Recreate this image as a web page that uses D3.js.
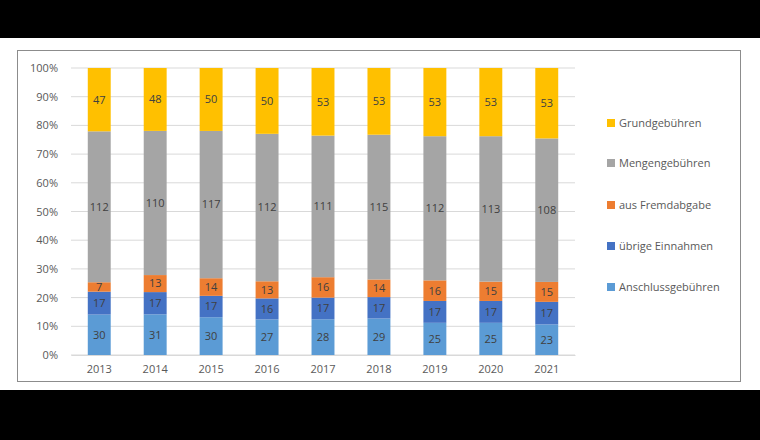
<html>
<head>
<style>
body { margin: 0; background: white; }
svg text { font-family: "Open Sans", "DejaVu Sans", sans-serif; }
</style>
<script src="https://d3js.org/d3.v7.min.js"></script>
</head>
<body>
<svg id="chart" width="760" height="440"></svg>
<script>
var years = ["2013","2014","2015","2016","2017","2018","2019","2020","2021"];
var seriesNames = ["Anschlussgebühren","übrige Einnahmen","aus Fremdabgabe","Mengengebühren","Grundgebühren"];
var anschluss = [30,31,30,27,28,29,25,25,23];
var uebrige   = [17,17,17,16,17,17,17,17,17];
var fremd     = [7,13,14,13,16,14,16,15,15];
var mengen    = [112,110,117,112,111,115,112,113,108];
var grund     = [47,48,50,50,53,53,53,53,53];
var colors = ["#5b9bd5","#4472c4","#ed7d31","#a5a5a5","#ffc000"];
var yTicks = [0,0.1,0.2,0.3,0.4,0.5,0.6,0.7,0.8,0.9,1];

var svg = d3.select("#chart");
svg.append("rect").attr("width",760).attr("height",440).attr("fill","black");
svg.append("rect").attr("x",0).attr("y",38).attr("width",760).attr("height",352).attr("fill","white");
svg.append("rect").attr("x",17.5).attr("y",50.5).attr("width",723).attr("height",331)
  .attr("fill","none").attr("stroke","#8c8c8c");

var rows = years.map(function(y,i){
  return {year:y, s0:anschluss[i], s1:uebrige[i], s2:fremd[i], s3:mengen[i], s4:grund[i]};
});
var keys = ["s0","s1","s2","s3","s4"];
var stack = d3.stack().keys(keys).offset(d3.stackOffsetExpand)(rows);

var x = d3.scaleBand().domain(years).range([71,575]).paddingInner(0.59).paddingOuter(0.3);
var y = d3.scaleLinear().domain([0,1]).range([355,68]);

svg.append("g").selectAll("line").data(yTicks).join("line")
  .attr("x1",71).attr("x2",575).attr("y1",function(d){return y(d);}).attr("y2",function(d){return y(d);})
  .attr("stroke","#d9d9d9");

var yAxis = svg.append("g").attr("transform","translate(71,0)")
  .call(d3.axisLeft(y).tickValues(yTicks).tickFormat(d3.format(".0%")).tickSize(0).tickPadding(13));
yAxis.select(".domain").remove();
yAxis.selectAll("text").attr("fill","#595959").style("font-size","11px");

var xAxis = svg.append("g").attr("transform","translate(0,355)")
  .call(d3.axisBottom(x).tickSize(0).tickPadding(10));
xAxis.select(".domain").attr("stroke","#d9d9d9");
xAxis.selectAll("text").attr("fill","#595959").style("font-size","11px");

var layers = svg.append("g").selectAll("g").data(stack).join("g")
  .attr("fill",function(d,i){return colors[i];});
layers.selectAll("rect").data(function(d){return d;}).join("rect")
  .attr("x",function(d){return x(d.data.year);})
  .attr("width",x.bandwidth())
  .attr("y",function(d){return y(d[1]);})
  .attr("height",function(d){return y(d[0])-y(d[1]);});

stack.forEach(function(layer){
  svg.append("g").selectAll("text").data(layer).join("text")
    .attr("x",function(d){return x(d.data.year)+x.bandwidth()/2;})
    .attr("y",function(d){return (y(d[0])+y(d[1]))/2;})
    .attr("dy","0.35em").attr("text-anchor","middle")
    .attr("fill","#404040").style("font-size","11px")
    .text(function(d){return d.data[layer.key];});
});

var legendY = [287,246,205,163,123];
var legend = svg.append("g").selectAll("g").data(seriesNames).join("g")
  .attr("transform",function(d,i){return "translate(607,"+legendY[i]+")";});
legend.append("rect").attr("x",0).attr("y",-4).attr("width",8).attr("height",8)
  .attr("fill",function(d,i){return colors[i];});
legend.append("text").attr("x",12).attr("dy","0.35em").attr("fill","#595959")
  .style("font-size","11px").text(function(d){return d;});
</script>
</body>
</html>
